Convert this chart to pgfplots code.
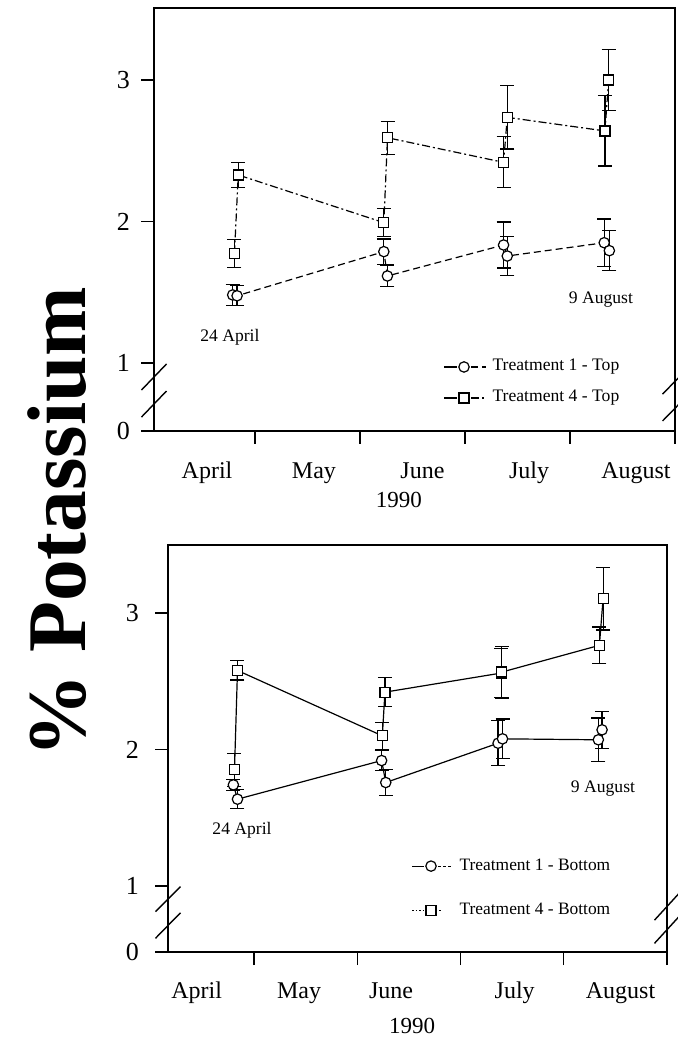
\documentclass[border=0pt]{standalone}
\usepackage{fontspec}
\setmainfont{Liberation Serif}
\usepackage{pgfplots}
\pgfplotsset{compat=1.18}

% common look of both panels
\pgfplotsset{
  potk/.style={
    scale only axis, clip=false,
    axis line style={line width=0.8pt},
    tick align=outside, xtick pos=left, ytick pos=left,
    major tick length=6.5pt,
    tick style={line width=0.7pt, black},
    xtick={1,2,3,4,5}, xticklabels={},
    extra x tick labels={April,May,June,July,August},
    yticklabels={0,1,2,3},
    yticklabel style={font=\fontsize{13}{15}\selectfont},
    xlabel={1990},
    legend cell align=left,
  },
  errs/.style={
    error bars/y dir=both, error bars/y explicit,
    error bars/error bar style={solid, line width=0.6pt},
    error bars/error mark options={rotate=90, mark size=3.5pt, line width=0.6pt, solid},
  },
  circ/.style={black, line width=0.6pt, mark=*, mark size=2.6pt,
    mark options={solid, fill=white, line width=0.6pt}},
  sq/.style={black, line width=0.6pt, mark=square*, mark size=2.5pt,
    mark options={solid, fill=white, line width=0.6pt}},
  legtop/.style={legend image code/.code={
    \draw[##1, mark=none, solid] (0pt,0pt) -- (6.5pt,0pt);
    \draw[##1, mark=none] (13.5pt,0pt) -- (21pt,0pt);
    \draw[##1] plot coordinates {(10pt,0pt)};}},
  legbotA/.style={legend image code/.code={
    \draw[##1, mark=none] (0pt,0pt) -- (6pt,0pt);
    \draw[##1, mark=none, dash pattern=on 1.5pt off 1pt] (13pt,0pt) -- (20.5pt,0pt);
    \draw[##1] plot coordinates {(9.5pt,0pt)};}},
  legbotB/.style={legend image code/.code={
    \draw[##1, mark=none, dash pattern=on 0.8pt off 1pt] (0pt,0pt) -- (6pt,0pt);
    \draw[##1, mark=none, dash pattern=on 0.8pt off 1pt] (13.5pt,0pt) -- (15pt,0pt);
    \draw[##1] plot coordinates {(9.5pt,0pt)};}},
}

\begin{document}
\begin{tikzpicture}
\useasboundingbox (0pt,0pt) rectangle (339pt,519pt);

\node[rotate=90, font=\fontsize{41.7}{45}\selectfont\bfseries] at (28.75pt,258pt) {\% Potassium};

% ---------------- top panel
\begin{axis}[potk,
  at={(77pt,303.5pt)}, anchor=south west,
  width=260.5pt, height=211.5pt,
  xmin=0.04, xmax=5, ymin=0.5194, ymax=3.509,
  ytick={0.5194,1,2,3},
  yticklabel style={xshift=-2pt},
  extra x ticks={0.545,1.563,2.596,3.610,4.628},
  extra x tick style={major tick length=0pt,
    tick label style={anchor=base, yshift=-24pt, font=\fontsize{12}{14}\selectfont}},
  xlabel style={at={(rel axis cs:0.47,0)}, anchor=center, yshift=-34.5pt, font=\fontsize{11.5}{13}\selectfont},
  legend style={draw=none, fill=none, at={(rel axis cs:0.5547,0.1147)}, anchor=west,
    inner sep=0pt, row sep=5.5pt, column sep=2pt,
    nodes={inner sep=1pt, text height=6pt, text depth=2pt},
    font=\fontsize{8.8}{10}\selectfont},
]
\addplot[circ, errs, dash pattern=on 3.5pt off 2pt, legtop]
coordinates {
(0.789,1.481) +- (0,0.075)
(0.831,1.475) +- (0,0.07)
(2.228,1.787) +- (0,0.09)
(2.262,1.615) +- (0,0.077)
(3.368,1.834) +- (0,0.163)
(3.403,1.756) +- (0,0.14)
(4.326,1.850) +- (0,0.168)
(4.375,1.794) +- (0,0.14)
};
\addlegendentry{Treatment 1 - Top}
\addplot[sq, errs, dash pattern=on 4pt off 1.5pt on 1pt off 1.5pt, legtop]
coordinates {
(0.806,1.775) +- (0,0.10)
(0.842,2.329) +- (0,0.09)
(2.228,1.992) +- (0,0.10)
(2.263,2.592) +- (0,0.117)
(3.368,2.418) +- (0,0.18)
(3.403,2.736) +- (0,0.224)
(4.333,2.640) +- (0,0.248)
(4.368,3.000) +- (0,0.215)
};
\addlegendentry{Treatment 4 - Top}

\node[font=\fontsize{8.8}{10}\selectfont] at (axis cs:0.763,1.184) {24 April};
\node[font=\fontsize{8.8}{10}\selectfont] at (axis cs:4.295,1.445) {9 August};

% axis break marks
\draw[line width=0.7pt] ([xshift=-6.25pt]axis cs:0.04,0.809) -- ([xshift=6.25pt]axis cs:0.04,0.993);
\draw[line width=0.7pt] ([xshift=-6.25pt]axis cs:0.04,0.618) -- ([xshift=6.25pt]axis cs:0.04,0.802);
\draw[line width=0.7pt] ([xshift=-6.25pt]axis cs:5,0.78) -- ([xshift=6.25pt]axis cs:5,0.96);
\draw[line width=0.7pt] ([xshift=-6.25pt]axis cs:5,0.59) -- ([xshift=6.25pt]axis cs:5,0.77);
\end{axis}

% ---------------- bottom panel
\begin{axis}[potk,
  at={(84pt,43pt)}, anchor=south west,
  width=249.5pt, height=203.5pt,
  xmin=0.167, xmax=5, ymin=0.5165, ymax=3.498,
  ytick={0.5165,1,2,3},
  yticklabel style={xshift=-4.5pt},
  extra x ticks={0.444,1.436,2.327,3.525,4.550},
  extra x tick style={major tick length=0pt,
    tick label style={anchor=base, yshift=-23pt, font=\fontsize{12}{14}\selectfont}},
  xlabel style={at={(rel axis cs:0.489,0)}, anchor=center, yshift=-37pt, font=\fontsize{11.5}{13}\selectfont},
  legend style={draw=none, fill=none, at={(rel axis cs:0.487,0.157)}, anchor=west,
    inner sep=0pt, row sep=12pt, column sep=2pt,
    nodes={inner sep=1pt, text height=6pt, text depth=2pt},
    font=\fontsize{8.7}{10}\selectfont},
]
\addplot[circ, errs, legbotA]
coordinates {
(0.800,1.741) +- (0,0.04)
(0.840,1.636) +- (0,0.07)
(2.236,1.919) +- (0,0.075)
(2.276,1.758) +- (0,0.095)
(3.364,2.046) +- (0,0.165)
(3.407,2.078) +- (0,0.145)
(4.335,2.071) +- (0,0.16)
(4.371,2.144) +- (0,0.135)
};
\addlegendentry{Treatment 1 - Bottom}
\addplot[sq, errs, legbotB]
coordinates {
(0.811,1.851) +- (0,0.12)
(0.840,2.579) +- (0,0.07)
(2.243,2.100) +- (0,0.10)
(2.268,2.420) +- (0,0.105)
(3.395,2.560) +- (0,0.18)
(3.400,2.567) +- (0,0.19)
(4.345,2.763) +- (0,0.135)
(4.381,3.105) +- (0,0.23)
};
\addlegendentry{Treatment 4 - Bottom}

\node[font=\fontsize{8.8}{10}\selectfont] at (axis cs:0.884,1.410) {24 April};
\node[font=\fontsize{8.8}{10}\selectfont] at (axis cs:4.380,1.711) {9 August};

\draw[line width=0.7pt] ([xshift=-6.25pt]axis cs:0.167,0.812) -- ([xshift=6.25pt]axis cs:0.167,0.995);
\draw[line width=0.7pt] ([xshift=-6.25pt]axis cs:0.167,0.617) -- ([xshift=6.25pt]axis cs:0.167,0.804);
\draw[line width=0.7pt] ([xshift=-6.25pt]axis cs:5,0.75) -- ([xshift=6.25pt]axis cs:5,0.95);
\draw[line width=0.7pt] ([xshift=-6.25pt]axis cs:5,0.58) -- ([xshift=6.25pt]axis cs:5,0.78);
\end{axis}
\end{tikzpicture}
\end{document}
